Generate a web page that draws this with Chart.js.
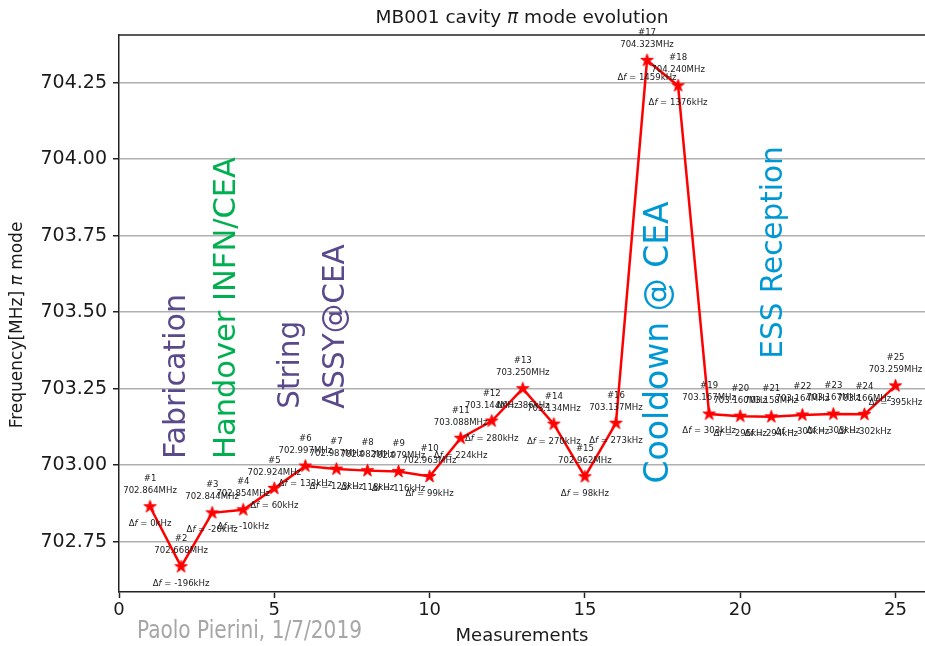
<!DOCTYPE html>
<html>
<head>
<meta charset="utf-8">
<title>MB001 cavity π mode evolution</title>
<script src="https://cdn.jsdelivr.net/npm/chart.js@4.4.1/dist/chart.umd.min.js"></script>
<style>
  html, body { margin: 0; padding: 0; background: #ffffff; overflow: hidden; }
  #wrap { width: 925px; height: 646px; position: relative; }
</style>
</head>
<body>
<div id="wrap"><canvas id="chart" width="925" height="646"></canvas></div>
<script>
// Measurement index, pi-mode frequency [MHz] and shift from the first measurement [kHz]
const measurementNo = [1, 2, 3, 4, 5, 6, 7, 8, 9, 10, 11, 12, 13, 14, 15, 16, 17, 18, 19, 20, 21, 22, 23, 24, 25];
const freqMHz = [702.864, 702.668, 702.844, 702.854, 702.924, 702.997, 702.987, 702.982, 702.979, 702.963,
                 703.088, 703.144, 703.250, 703.134, 702.962, 703.137, 704.323, 704.240, 703.167, 703.160,
                 703.158, 703.164, 703.167, 703.166, 703.259];
const shiftKHz = [0, -196, -20, -10, 60, 133, 123, 118, 116, 99,
                  224, 280, 386, 270, 98, 273, 1459, 1376, 303, 296,
                  294, 300, 303, 302, 395];

// Axis ticks
const xTickValues = [0, 5, 10, 15, 20, 25];
const yTickValues = [702.75, 703.00, 703.25, 703.50, 703.75, 704.00, 704.25];

// Process phases written vertically across the plot
const phaseNotes = [
  { text: 'Fabrication',       x: 1.88,  y: 703.020, size: 30,   color: '#5b4a8b' },
  { text: 'Handover INFN/CEA', x: 3.49,  y: 703.020, size: 30.5, color: '#00b050' },
  { text: 'String',            x: 5.55,  y: 703.184, size: 29.5, color: '#5b4a8b' },
  { text: 'ASSY@CEA',          x: 7.00,  y: 703.184, size: 29.5, color: '#5b4a8b' },
  { text: 'Cooldown @ CEA',    x: 17.40, y: 702.940, size: 33,   color: '#0098d4' },
  { text: 'ESS Reception',     x: 21.10, y: 703.348, size: 29.5, color: '#0098d4' }
];

const SANS = "'DejaVu Sans', sans-serif";
const SMALL = "'DejaVu Sans Condensed', 'DejaVu Sans', sans-serif";
const INK = '#1a1a1a';

// Filled five-pointed star used as the point marker
function makeStar(rOut, color) {
  const rIn = rOut * 0.381966;
  const s = Math.ceil(rOut * 2 + 3);
  const c = document.createElement('canvas');
  c.width = c.height = s;
  const g = c.getContext('2d');
  g.translate(s / 2, s / 2);
  g.beginPath();
  for (let k = 0; k < 10; k++) {
    const r = k % 2 ? rIn : rOut;
    const a = -Math.PI / 2 + k * Math.PI / 5;
    g.lineTo(r * Math.cos(a), r * Math.sin(a));
  }
  g.closePath();
  g.fillStyle = color;
  g.fill();
  g.lineWidth = 1;
  g.strokeStyle = color;
  g.stroke();
  return c;
}
const starMarker = makeStar(6.6, '#ff0000');

// Draw a run of text pieces, some of them italic, as one line
function drawRich(ctx, parts, x, y, align, size, family) {
  const fonts = parts.map(p => (p.italic ? 'italic ' : '') + size + 'px ' + family);
  let total = 0;
  const widths = parts.map((p, i) => {
    ctx.font = fonts[i];
    const w = ctx.measureText(p.t).width;
    total += w;
    return w;
  });
  let cx = align === 'center' ? x - total / 2 : x;
  ctx.textAlign = 'left';
  parts.forEach((p, i) => {
    ctx.font = fonts[i];
    ctx.fillText(p.t, cx, y);
    cx += widths[i];
  });
}

const annotations = {
  id: 'annotations',
  beforeDatasetsDraw(chart) {
    const { ctx, scales: { x, y } } = chart;
    ctx.save();
    ctx.textBaseline = 'middle';
    ctx.textAlign = 'left';
    for (const n of phaseNotes) {
      ctx.save();
      ctx.translate(x.getPixelForValue(n.x), y.getPixelForValue(n.y));
      ctx.rotate(-Math.PI / 2);
      ctx.font = n.size + 'px ' + SANS;
      ctx.fillStyle = n.color;
      ctx.fillText(n.text, 0, 0);
      ctx.restore();
    }
    ctx.restore();
  },
  afterDatasetsDraw(chart) {
    const { ctx } = chart;
    const meta = chart.getDatasetMeta(0);
    ctx.save();
    ctx.fillStyle = INK;
    ctx.textBaseline = 'middle';
    meta.data.forEach((pt, i) => {
      const px = pt.x, py = pt.y;
      ctx.textAlign = 'center';
      ctx.font = '9.5px ' + SMALL;
      ctx.fillText('#' + measurementNo[i], px, py - 28);
      ctx.fillText(freqMHz[i].toFixed(3) + 'MHz', px, py - 16);
      drawRich(ctx, [{ t: 'Δ' }, { t: 'f', italic: true }, { t: ' = ' + shiftKHz[i] + 'kHz' }],
               px, py + 17, 'center', 9.5, SMALL);
    });
    ctx.restore();
  },
  afterDraw(chart) {
    const { ctx, chartArea: a } = chart;
    ctx.save();
    // top frame line
    ctx.strokeStyle = '#222';
    ctx.lineWidth = 1.5;
    ctx.beginPath();
    ctx.moveTo(a.left, a.top);
    ctx.lineTo(chart.width, a.top);
    ctx.stroke();

    ctx.fillStyle = INK;
    ctx.textBaseline = 'middle';
    // title
    drawRich(ctx, [{ t: 'MB001 cavity ' }, { t: 'π', italic: true }, { t: ' mode evolution' }],
             (a.left + a.right) / 2, 18, 'center', 18.5, SANS);
    // x axis title
    ctx.textAlign = 'center';
    ctx.font = '18px ' + SANS;
    ctx.fillText('Measurements', (a.left + a.right) / 2, 636);
    // y axis title
    ctx.save();
    ctx.translate(18, 325);
    ctx.rotate(-Math.PI / 2);
    drawRich(ctx, [{ t: 'Frequency[MHz] ' }, { t: 'π', italic: true }, { t: ' mode' }], 0, 0, 'center', 17, SANS);
    ctx.restore();

    // author and date line
    ctx.fillStyle = '#a6a6a6';
    ctx.font = "24px 'Liberation Sans Narrow', 'DejaVu Sans Condensed', sans-serif";
    ctx.textAlign = 'left';
    const label = 'Paolo Pierini, 1/7/2019';
    const w = ctx.measureText(label).width;
    ctx.save();
    ctx.translate(137, 632);
    ctx.scale(225 / w, 1);
    ctx.fillText(label, 0, 0);
    ctx.restore();
    ctx.restore();
  }
};

new Chart(document.getElementById('chart'), {
  type: 'line',
  data: {
    datasets: [{
      data: measurementNo.map((m, i) => ({ x: m, y: freqMHz[i] })),
      borderColor: '#ff0000',
      backgroundColor: '#ff0000',
      borderWidth: 2.5,
      tension: 0,
      pointStyle: starMarker,
      pointRadius: 7,
      pointHoverRadius: 7
    }]
  },
  options: {
    responsive: false,
    animation: false,
    devicePixelRatio: 1,
    events: [],
    layout: { autoPadding: false, padding: { top: 35, right: 0, bottom: 0, left: 0 } },
    plugins: { legend: { display: false }, tooltip: { enabled: false }, title: { display: false } },
    scales: {
      x: {
        type: 'linear',
        min: 0,
        max: 25.95,
        afterBuildTicks: s => { s.ticks = xTickValues.map(v => ({ value: v })); },
        afterFit: s => { s.height = 54; s.paddingRight = 0; s.paddingLeft = 0; },
        grid: { drawOnChartArea: false, drawTicks: true, tickLength: 6, tickColor: '#222', tickWidth: 1.5 },
        border: { display: true, color: '#222', width: 1.5 },
        ticks: { color: INK, font: { family: SANS, size: 18 }, padding: 2, maxRotation: 0, autoSkip: false,
                 callback: v => String(v) }
      },
      y: {
        type: 'linear',
        min: 702.5853,
        max: 704.4058,
        afterBuildTicks: s => { s.ticks = yTickValues.map(v => ({ value: v })); },
        afterFit: s => { s.width = 119; s.paddingTop = 0; s.paddingBottom = 0; },
        grid: { color: '#b0b0b0', lineWidth: 1.5, drawTicks: true, tickLength: 6, tickColor: '#222', tickWidth: 1.5 },
        border: { display: true, color: '#222', width: 1.5 },
        ticks: { color: INK, font: { family: SANS, size: 19 }, padding: 6, autoSkip: false,
                 callback: v => Number(v).toFixed(2) }
      }
    }
  },
  plugins: [annotations]
});
</script>
</body>
</html>
